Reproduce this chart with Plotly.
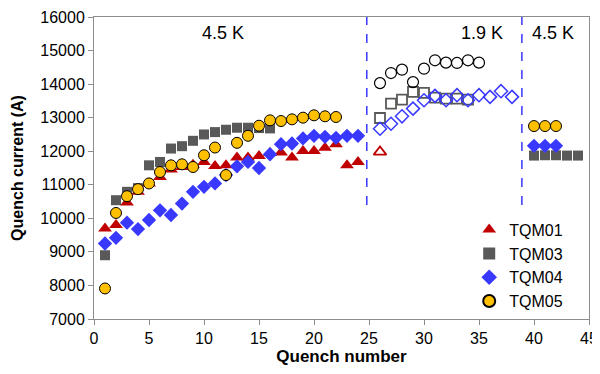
import plotly.graph_objects as go

# ---- data ----
tqm01_x_45 = list(range(1, 25))
tqm01_y_45 = [9700, 9800, 10470, 10790, 11040, 11235, 11455, 11530, 11600, 11680,
              11560, 11580, 11810, 11810, 11860, 11950, 11960, 11810, 12010, 12010,
              12100, 12210, 11580, 11680]
tqm01_x_19 = [26]
tqm01_y_19 = [11980]

tqm03_x_45a = list(range(1, 17))
tqm03_y_45a = [8900, 10540, 10790, 10900, 11580, 11680, 12080, 12150, 12310, 12500,
               12570, 12640, 12700, 12700, 12690, 12680]
tqm03_x_19 = list(range(26, 35))
tqm03_y_19 = [12990, 13420, 13540, 13770, 13740, 13600, 13570, 13570, 13540]
tqm03_x_45b = [40, 41, 42, 43, 44]
tqm03_y_45b = [11870, 11880, 11880, 11870, 11870]

tqm04_x_45a = list(range(1, 25))
tqm04_y_45a = [9250, 9420, 9870, 9680, 9950, 10240, 10100, 10440, 10790, 10940,
               11040, 11290, 11550, 11680, 11500, 11910, 12210, 12230, 12380, 12460,
               12430, 12400, 12460, 12460]
tqm04_x_19 = list(range(26, 39))
tqm04_y_19 = [12670, 12820, 13040, 13270, 13520, 13650, 13520, 13670, 13520, 13670,
              13620, 13790, 13620]
tqm04_x_45b = [40, 41, 42]
tqm04_y_45b = [12160, 12160, 12160]

tqm05_x_45a = list(range(1, 23))
tqm05_y_45a = [7910, 10160, 10660, 10870, 11040, 11380, 11580, 11610, 11530, 11880,
               12110, 11290, 12250, 12460, 12760, 12920, 12900, 12950, 13000, 13070,
               13040, 13020]
tqm05_x_19 = list(range(26, 36))
tqm05_y_19 = [14030, 14330, 14430, 14060, 14460, 14710, 14640, 14630, 14710, 14640]
tqm05_x_45b = [40, 41, 42]
tqm05_y_45b = [12750, 12750, 12750]

regions = ["4.5 K", "1.9 K", "4.5 K"]
region_label_x = [11.7, 35.3, 41.7]
region_label_y = 15510
boundaries = [24.8, 38.9]
boundary_ymin = 10400

FONT = "Liberation Sans, Arial, sans-serif"
RED = "#C00000"
GRAY = "#595959"
BLUE = "#3838FF"
GOLD = "#FFC000"

fig = go.Figure()

def add(x, y, name, symbol, color, size, line_color=None, line_w=0, show=True, group=None):
    fig.add_trace(go.Scatter(
        x=x, y=y, mode="markers", name=name, showlegend=show, legendgroup=group,
        marker=dict(symbol=symbol, color=color, size=size,
                    line=dict(color=line_color or color, width=line_w)),
    ))

# TQM01
add(tqm01_x_45, tqm01_y_45, "TQM01", "triangle-up", RED, 12, group="g1")
add(tqm01_x_19, tqm01_y_19, "TQM01", "triangle-up-open", RED, 11, line_w=1.8, show=False, group="g1")
# TQM03
add(tqm03_x_45a, tqm03_y_45a, "TQM03", "square", GRAY, 10, group="g3")
add(tqm03_x_19, tqm03_y_19, "TQM03", "square-open", GRAY, 10, line_w=1.8, show=False, group="g3")
add(tqm03_x_45b, tqm03_y_45b, "TQM03", "square", GRAY, 10, show=False, group="g3")
# TQM04
add(tqm04_x_45a, tqm04_y_45a, "TQM04", "diamond", BLUE, 11, group="g4")
add(tqm04_x_19, tqm04_y_19, "TQM04", "diamond-open", BLUE, 10, line_w=1.5, show=False, group="g4")
add(tqm04_x_45b, tqm04_y_45b, "TQM04", "diamond", BLUE, 11, show=False, group="g4")
# TQM05
add(tqm05_x_45a, tqm05_y_45a, "TQM05", "circle", GOLD, 11, line_color="#000000", line_w=1, group="g5")
add(tqm05_x_19, tqm05_y_19, "TQM05", "circle-open", "#000000", 11, line_w=1.2, show=False, group="g5")
add(tqm05_x_45b, tqm05_y_45b, "TQM05", "circle", GOLD, 11, line_color="#000000", line_w=1, show=False, group="g5")

for bx in boundaries:
    fig.add_shape(type="line", xref="x", yref="y", x0=bx, x1=bx, y0=boundary_ymin, y1=16000,
                  line=dict(color=BLUE, width=1.5, dash="dash"))

for txt, lx in zip(regions, region_label_x):
    fig.add_annotation(x=lx, y=region_label_y, text=txt, showarrow=False,
                       font=dict(family=FONT, size=18, color="#000000"))

axis_common = dict(showline=True, linecolor="#8c8c8c", linewidth=1, mirror=True,
                   ticks="outside", ticklen=5, tickcolor="#8c8c8c", showgrid=False,
                   zeroline=False, automargin=False,
                   tickfont=dict(family=FONT, size=16, color="#000000"))

fig.update_layout(
    width=600, height=374,
    margin=dict(l=86, r=19, t=9, b=63),
    paper_bgcolor="white", plot_bgcolor="white",
    font=dict(family=FONT, color="#000000"),
    xaxis=dict(range=[0, 45], dtick=5, tick0=0,
               title=dict(text="<b>Quench number</b>", font=dict(family=FONT, size=17), standoff=2),
               **axis_common),
    yaxis=dict(range=[7000, 16000], dtick=1000, tickformat="d",
               title=dict(text="<b>Quench current (A)</b>", font=dict(family=FONT, size=16), standoff=12),
               **axis_common),
    legend=dict(x=0.758, y=0.352, xanchor="left", yanchor="top",
                font=dict(family=FONT, size=16, color="#000000"),
                bgcolor="rgba(0,0,0,0)", tracegroupgap=0, itemwidth=30,
                itemsizing="constant"),
)

fig.write_html("out.html")
